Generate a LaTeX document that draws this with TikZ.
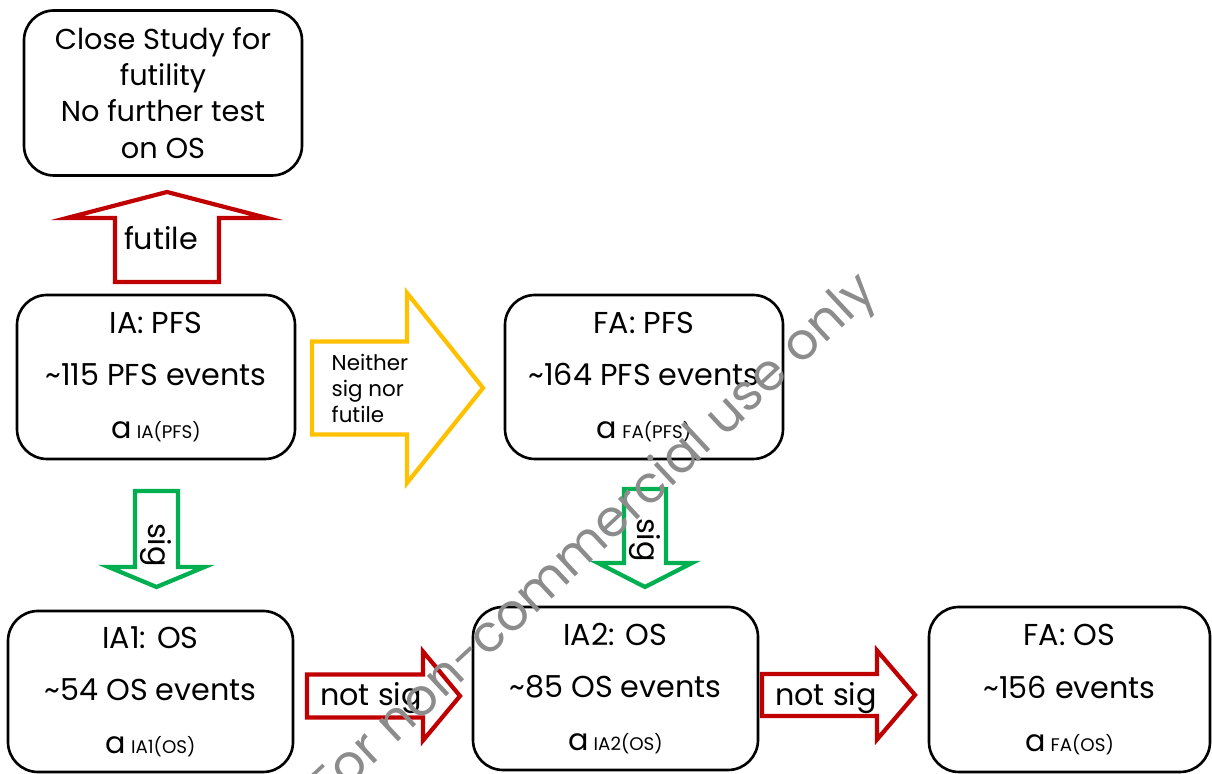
\documentclass[tikz,border=0pt]{standalone}
\usepackage{fontspec}
\setmainfont{Poppins}
\usetikzlibrary{positioning}

\definecolor{darkred}{HTML}{C00000}
\definecolor{amber}{HTML}{FFC000}
\definecolor{sigreen}{HTML}{00B050}

\tikzstyle{stage} = [draw,line width=0.75pt,rounded corners=0.3cm,align=center,font=\fontsize{8.6}{15}\selectfont,inner sep=0pt]
\tikzstyle{closebox} = [stage,font=\fontsize{8.2}{10.3}\selectfont]
\tikzstyle{blockarrow} = [line width=1.2pt,line join=miter,fill=white]
\tikzstyle{arrowtext} = [font=\fontsize{8.6}{11}\selectfont,inner sep=0pt]
\tikzstyle{smalltext} = [font=\fontsize{6.1}{7.4}\selectfont,inner sep=0pt,align=left]
\newcommand{\alevel}[1]{a\,{\fontsize{5.2}{6}\selectfont #1}}

\begin{document}
\begin{tikzpicture}
  \useasboundingbox (0,0) rectangle (12.12,7.74);
  % stages
  \foreach \nodename/\x/\y/\w/\h/\lines in {
    iapfs/1.56/3.97/2.78/1.64/{IA: PFS\\\textasciitilde115 PFS events\\\alevel{IA(PFS)}},
    fapfs/6.44/3.97/2.78/1.64/{FA: PFS\\\textasciitilde164 PFS events\\\alevel{FA(PFS)}},
    iaoneos/1.505/0.825/2.85/1.61/{IA1: OS\\\textasciitilde54 OS events\\\alevel{IA1(OS)}},
    iatwoos/6.155/0.855/2.85/1.63/{IA2: OS\\\textasciitilde85 OS events\\\alevel{IA2(OS)}},
    faos/10.695/0.845/2.81/1.65/{FA: OS\\\textasciitilde156 events\\\alevel{FA(OS)}}}
  {
    \node[stage,minimum width=\w cm,minimum height=\h cm] (\nodename) at (\x,\y) {\lines};
  };
  \node[closebox,minimum width=2.78cm,minimum height=1.65cm] (close) at (1.63,6.81)
    {Close Study for\\futility\\No further test\\on OS};

  % block arrows: tail centre, direction, neck, length, half shaft, half head
  \foreach \x/\y/\angle/\neck/\len/\shaft/\head/\col in {
    1.67/4.92/90/0.64/0.90/0.52/1.00/darkred,
    3.12/3.86/0/0.95/1.71/0.465/0.95/amber,
    1.565/2.83/-90/0.76/0.96/0.215/0.48/sigreen,
    6.45/2.85/-90/0.74/0.98/0.21/0.47/sigreen,
    3.07/0.78/0/1.16/1.53/0.215/0.445/darkred,
    7.62/0.79/0/1.15/1.53/0.21/0.445/darkred}
  {
    \draw[blockarrow,draw=\col,shift={(\x,\y)},rotate=\angle]
      (0,-\shaft) -- (\neck,-\shaft) -- (\neck,-\head) -- (\len,0)
      -- (\neck,\head) -- (\neck,\shaft) -- (0,\shaft) -- cycle;
  };

  % arrow labels
  \node[arrowtext] (futile) at (1.61,5.36) {futile};
  \node[smalltext,anchor=west] (neither) at (3.31,3.86) {Neither\\sig nor\\futile};
  \node[arrowtext,rotate=-90] (sigone) at (1.56,2.29) {sig};
  \node[arrowtext,rotate=-90] (sigtwo) at (6.45,2.34) {sig};
  \node[arrowtext] (notsigone) at (3.71,0.76) {not sig};
  \node[arrowtext] (notsigtwo) at (8.26,0.76) {not sig};

  % watermark
  \node[text=black!45,rotate=43,font=\fontsize{14.5}{16}\selectfont] (mark) at (5.95,2.33)
    {For non-commercial use only};
\end{tikzpicture}
\end{document}
